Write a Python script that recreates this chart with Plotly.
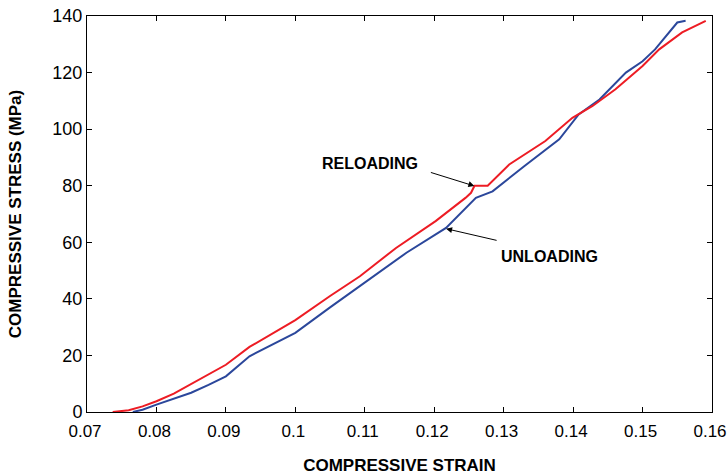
import plotly.graph_objects as go

# reloading curve (red)
reload_strain = [0.0737, 0.0760, 0.0780, 0.0800, 0.0825, 0.0850, 0.0875, 0.0900, 0.0934, 0.0965,
                 0.1000, 0.1050, 0.1093, 0.1145, 0.1202, 0.1245, 0.1253, 0.1258, 0.1277, 0.1308,
                 0.1360, 0.1399, 0.1428, 0.1461, 0.1500, 0.1524, 0.1557, 0.1591]
reload_stress = [0.0, 0.6, 2.0, 3.8, 6.5, 10.0, 13.2, 16.7, 23.0, 27.5,
                 32.5, 41.0, 48.0, 58.0, 67.5, 75.7, 77.5, 80.0, 80.0, 87.5,
                 95.8, 104.0, 108.2, 114.1, 122.3, 128.2, 134.2, 138.3]

# unloading curve (blue)
unload_strain = [0.0766, 0.0780, 0.0800, 0.0825, 0.0850, 0.0875, 0.0900, 0.0934, 0.0965, 0.1000,
                 0.1050, 0.1112, 0.1160, 0.1217, 0.1260, 0.1284, 0.1330, 0.1380, 0.1408, 0.1438,
                 0.1476, 0.1500, 0.1518, 0.1550, 0.1562]
unload_stress = [0.0, 0.8, 2.6, 4.6, 6.8, 9.6, 12.6, 19.7, 23.5, 28.0,
                 37.0, 48.0, 56.3, 65.1, 75.7, 78.0, 87.0, 96.4, 105.2, 110.5,
                 120.0, 124.0, 128.2, 137.7, 138.3]

x_ticks = [0.07, 0.08, 0.09, 0.1, 0.11, 0.12, 0.13, 0.14, 0.15, 0.16]
x_labels = ["0.07", "0.08", "0.09", "0.1", "0.11", "0.12", "0.13", "0.14", "0.15", "0.16"]
y_ticks = [0, 20, 40, 60, 80, 100, 120, 140]

FONT = "Liberation Sans"

fig = go.Figure()
fig.add_trace(go.Scatter(x=unload_strain, y=unload_stress, mode="lines",
                         line=dict(color="#2B479B", width=2), name="Unloading"))
fig.add_trace(go.Scatter(x=reload_strain, y=reload_stress, mode="lines",
                         line=dict(color="#ED1C24", width=2), name="Reloading"))

axis_common = dict(showline=True, linecolor="black", linewidth=1, mirror="ticks",
                   ticks="inside", ticklen=5, tickcolor="black", showgrid=False,
                   zeroline=False, automargin=False, ticklabeloverflow="allow")

fig.update_xaxes(range=[0.07, 0.16], tickvals=x_ticks, ticktext=x_labels,
                 tickfont=dict(family=FONT, size=17, color="black"),
                 ticklabelshift=-2, ticklabelstandoff=4,
                 title=dict(text="<b>COMPRESSIVE STRAIN</b>", standoff=18,
                            font=dict(family=FONT, size=17, color="black")),
                 **axis_common)
fig.update_yaxes(range=[0, 140], tickvals=y_ticks,
                 tickfont=dict(family=FONT, size=18, color="black"),
                 title=dict(text="<b>COMPRESSIVE STRESS (MPa)</b>", standoff=26,
                            font=dict(family=FONT, size=17, color="black")),
                 **axis_common)

ann_font = dict(family=FONT, size=16, color="black")
fig.add_annotation(x=0.12578, y=79.9, ax=-45, ay=-14, showarrow=True, arrowhead=2,
                   arrowsize=1.2, arrowwidth=1, arrowcolor="black", text="")
fig.add_annotation(x=0.12171, y=64.8, ax=52, ay=12, showarrow=True, arrowhead=2,
                   arrowsize=1.2, arrowwidth=1, arrowcolor="black", text="")
fig.add_annotation(x=0.1107, y=88, text="<b>RELOADING</b>", showarrow=False, font=ann_font)
fig.add_annotation(x=0.1366, y=55.1, text="<b>UNLOADING</b>", showarrow=False, font=ann_font)

fig.update_layout(width=727, height=476, plot_bgcolor="white", paper_bgcolor="white",
                  showlegend=False,
                  margin=dict(l=87, r=15, t=16, b=64, autoexpand=False))

fig.write_html("out.html", config={"displayModeBar": False},
               post_script="document.body.style.margin='0';")
